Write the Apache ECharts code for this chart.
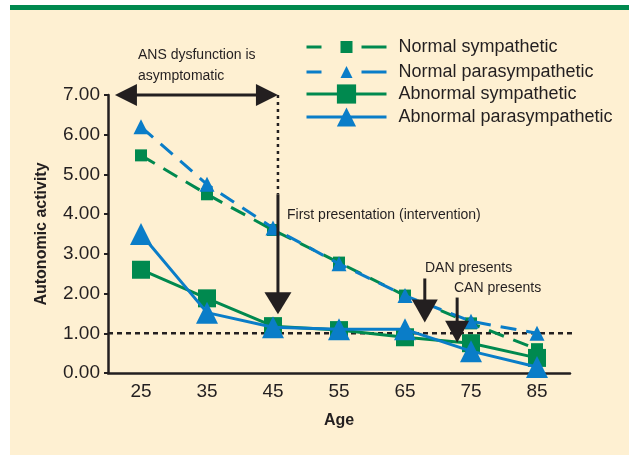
<!DOCTYPE html>
<html>
<head>
<meta charset="utf-8">
<script src="https://cdn.jsdelivr.net/npm/echarts@6/dist/echarts.min.js"></script>
<style>
  html, body { margin: 0; padding: 0; background: #ffffff; }
  #chart { width: 629px; height: 456px; }
</style>
</head>
<body>
<div id="chart"></div>
<script>
// ---- data ----
var ages = ['25', '35', '45', '55', '65', '75', '85'];
var normalSympathetic = [5.48, 4.5, 3.6, 2.78, 1.95, 1.25, 0.6];
var normalParasympathetic = [6.2, 4.75, 3.65, 2.75, 1.95, 1.3, 1.0];
var abnormalSympathetic = [2.6, 1.88, 1.18, 1.08, 0.9, 0.75, 0.38];
var abnormalParasympathetic = [3.5, 1.52, 1.15, 1.1, 1.1, 0.55, 0.15];
var yTicks = [0, 1, 2, 3, 4, 5, 6, 7];
// annotation arrows: [xStart(age), yStart, xTip(age), yTip, bothEnds]
var arrows = [
  [21.05, 7.0, 45.75, 7.0, 1],
  [45.75, 4.5, 45.75, 1.48, 0],
  [68.0, 2.38, 68.0, 1.27, 0],
  [72.9, 1.9, 72.9, 0.76, 0]
];
// reference dotted lines: [x1, y1, x2, y2]
var dottedLines = [
  [20, 1.0, 90.3, 1.0],
  [45.75, 7.0, 45.75, 4.5]
];

var GREEN = '#00894F', BLUE = '#0A7DC8', INK = '#231F20';
var FONT = 'Liberation Sans, Arial, sans-serif';
var headSizes = [[22, 22], [22, 27], [23, 26], [22, 24]]; // [length, width]
var dashStyles = [[5, 4], [3, 4]];

var chart = echarts.init(document.getElementById('chart'), null, { renderer: 'canvas' });

function legendFor(name, top, h, dashed) {
  return {
    data: [name], orient: 'vertical', left: 305, top: top, padding: 0,
    itemWidth: 80, itemHeight: h, selectedMode: false,
    lineStyle: dashed ? { type: [15, 40, 25, 10], width: 3 } : { width: 3 },
    textStyle: { fontFamily: FONT, fontSize: 18, color: INK, lineHeight: 20, padding: [0, 0, 0, 7] }
  };
}

var option = {
  backgroundColor: '#ffffff',
  animation: false,
  graphic: [
    { type: 'rect', z: -10, shape: { x: 10, y: 10, width: 619, height: 445 }, style: { fill: '#FEF0D2' } },
    { type: 'rect', z: -10, shape: { x: 10, y: 5, width: 619, height: 5 }, style: { fill: GREEN } },
    { type: 'text', left: 138, top: 45, z: 10, style: { text: 'ANS dysfunction is\nasymptomatic', font: '14px ' + FONT, fill: INK, lineHeight: 21 } },
    { type: 'text', left: 287, top: 208, z: 10, style: { text: 'First presentation (intervention)', font: '14px ' + FONT, fill: INK } },
    { type: 'text', left: 425, top: 261, z: 10, style: { text: 'DAN presents', font: '14px ' + FONT, fill: INK } },
    { type: 'text', left: 454, top: 281, z: 10, style: { text: 'CAN presents', font: '14px ' + FONT, fill: INK } }
  ],
  legend: [
    legendFor('Normal sympathetic', 37, 15, true),
    legendFor('Normal parasympathetic', 62, 15, true),
    legendFor('Abnormal sympathetic', 84, 24, false),
    legendFor('Abnormal parasympathetic', 107, 24, false)
  ],
  grid: { left: 108, right: 59, top: 95, bottom: 83, containLabel: false },
  xAxis: [
    {
      type: 'category', data: ages, boundaryGap: true,
      name: 'Age', nameLocation: 'middle', nameGap: 40,
      nameTextStyle: { fontFamily: FONT, fontSize: 16, fontWeight: 'bold', color: INK },
      axisLine: { lineStyle: { color: INK, width: 2.5 } },
      axisTick: { length: 5, lineStyle: { color: INK, width: 2 } },
      axisLabel: { fontFamily: FONT, fontSize: 19, color: INK, margin: 9 },
      splitLine: { show: false }
    },
    { type: 'value', min: 20, max: 90, show: false }
  ],
  yAxis: {
    type: 'value', min: 0, max: 7, interval: 1,
    name: 'Autonomic activity', nameLocation: 'middle', nameGap: 58,
    nameTextStyle: { fontFamily: FONT, fontSize: 16, fontWeight: 'bold', color: INK },
    axisLine: { show: true, lineStyle: { color: INK, width: 2.5 } },
    axisTick: { show: true, length: 4, lineStyle: { color: INK, width: 2 } },
    axisLabel: { fontFamily: FONT, fontSize: 19, color: INK, margin: 8,
      formatter: function (v) { return yTicks.indexOf(v) >= 0 ? v.toFixed(2) : ''; } },
    splitLine: { show: false }
  },
  series: [
    {
      type: 'custom', xAxisIndex: 1, yAxisIndex: 0, z: 1, silent: true,
      data: dottedLines, encode: { x: [0, 2], y: [1, 3] },
      renderItem: function (params, api) {
        var a = api.coord([api.value(0), api.value(1)]);
        var b = api.coord([api.value(2), api.value(3)]);
        return { type: 'line', shape: { x1: a[0], y1: a[1], x2: b[0], y2: b[1] },
          style: { stroke: INK, lineWidth: 2.5, lineDash: dashStyles[params.dataIndex] } };
      }
    },
    {
      name: 'Normal sympathetic', type: 'line', data: normalSympathetic, z: 2,
      symbol: 'rect', symbolSize: 12,
      lineStyle: { color: GREEN, width: 3, type: [16, 10] }, itemStyle: { color: GREEN }
    },
    {
      name: 'Normal parasympathetic', type: 'line', data: normalParasympathetic, z: 3,
      symbol: 'triangle', symbolSize: 15,
      lineStyle: { color: BLUE, width: 3, type: [16, 10] }, itemStyle: { color: BLUE }
    },
    {
      name: 'Abnormal sympathetic', type: 'line', data: abnormalSympathetic, z: 4,
      symbol: 'rect', symbolSize: 18,
      lineStyle: { color: GREEN, width: 3 }, itemStyle: { color: GREEN }
    },
    {
      name: 'Abnormal parasympathetic', type: 'line', data: abnormalParasympathetic, z: 5,
      symbol: 'triangle', symbolSize: 22,
      lineStyle: { color: BLUE, width: 3 }, itemStyle: { color: BLUE }
    },
    {
      type: 'custom', xAxisIndex: 1, yAxisIndex: 0, z: 8, silent: true,
      data: arrows, encode: { x: [0, 2], y: [1, 3] },
      renderItem: function (params, api) {
        var a = api.coord([api.value(0), api.value(1)]);
        var b = api.coord([api.value(2), api.value(3)]);
        var both = api.value(4) === 1;
        var hs = headSizes[params.dataIndex];
        var L = hs[0], W = hs[1];
        var dx = b[0] - a[0], dy = b[1] - a[1];
        var len = Math.sqrt(dx * dx + dy * dy);
        var ux = dx / len, uy = dy / len, nx = -uy, ny = ux;
        function head(tip, sx, sy) {
          var bx = tip[0] - sx * L, by = tip[1] - sy * L;
          return { type: 'polygon', shape: { points: [tip, [bx + nx * W / 2, by + ny * W / 2], [bx - nx * W / 2, by - ny * W / 2]] },
            style: { fill: INK } };
        }
        var start = both ? [a[0] + ux * (L - 2), a[1] + uy * (L - 2)] : a;
        var end = [b[0] - ux * (L - 2), b[1] - uy * (L - 2)];
        var children = [
          { type: 'line', shape: { x1: start[0], y1: start[1], x2: end[0], y2: end[1] }, style: { stroke: INK, lineWidth: 3 } },
          head(b, ux, uy)
        ];
        if (both) children.push(head(a, -ux, -uy));
        return { type: 'group', children: children };
      }
    }
  ]
};
chart.setOption(option);
</script>
</body>
</html>
